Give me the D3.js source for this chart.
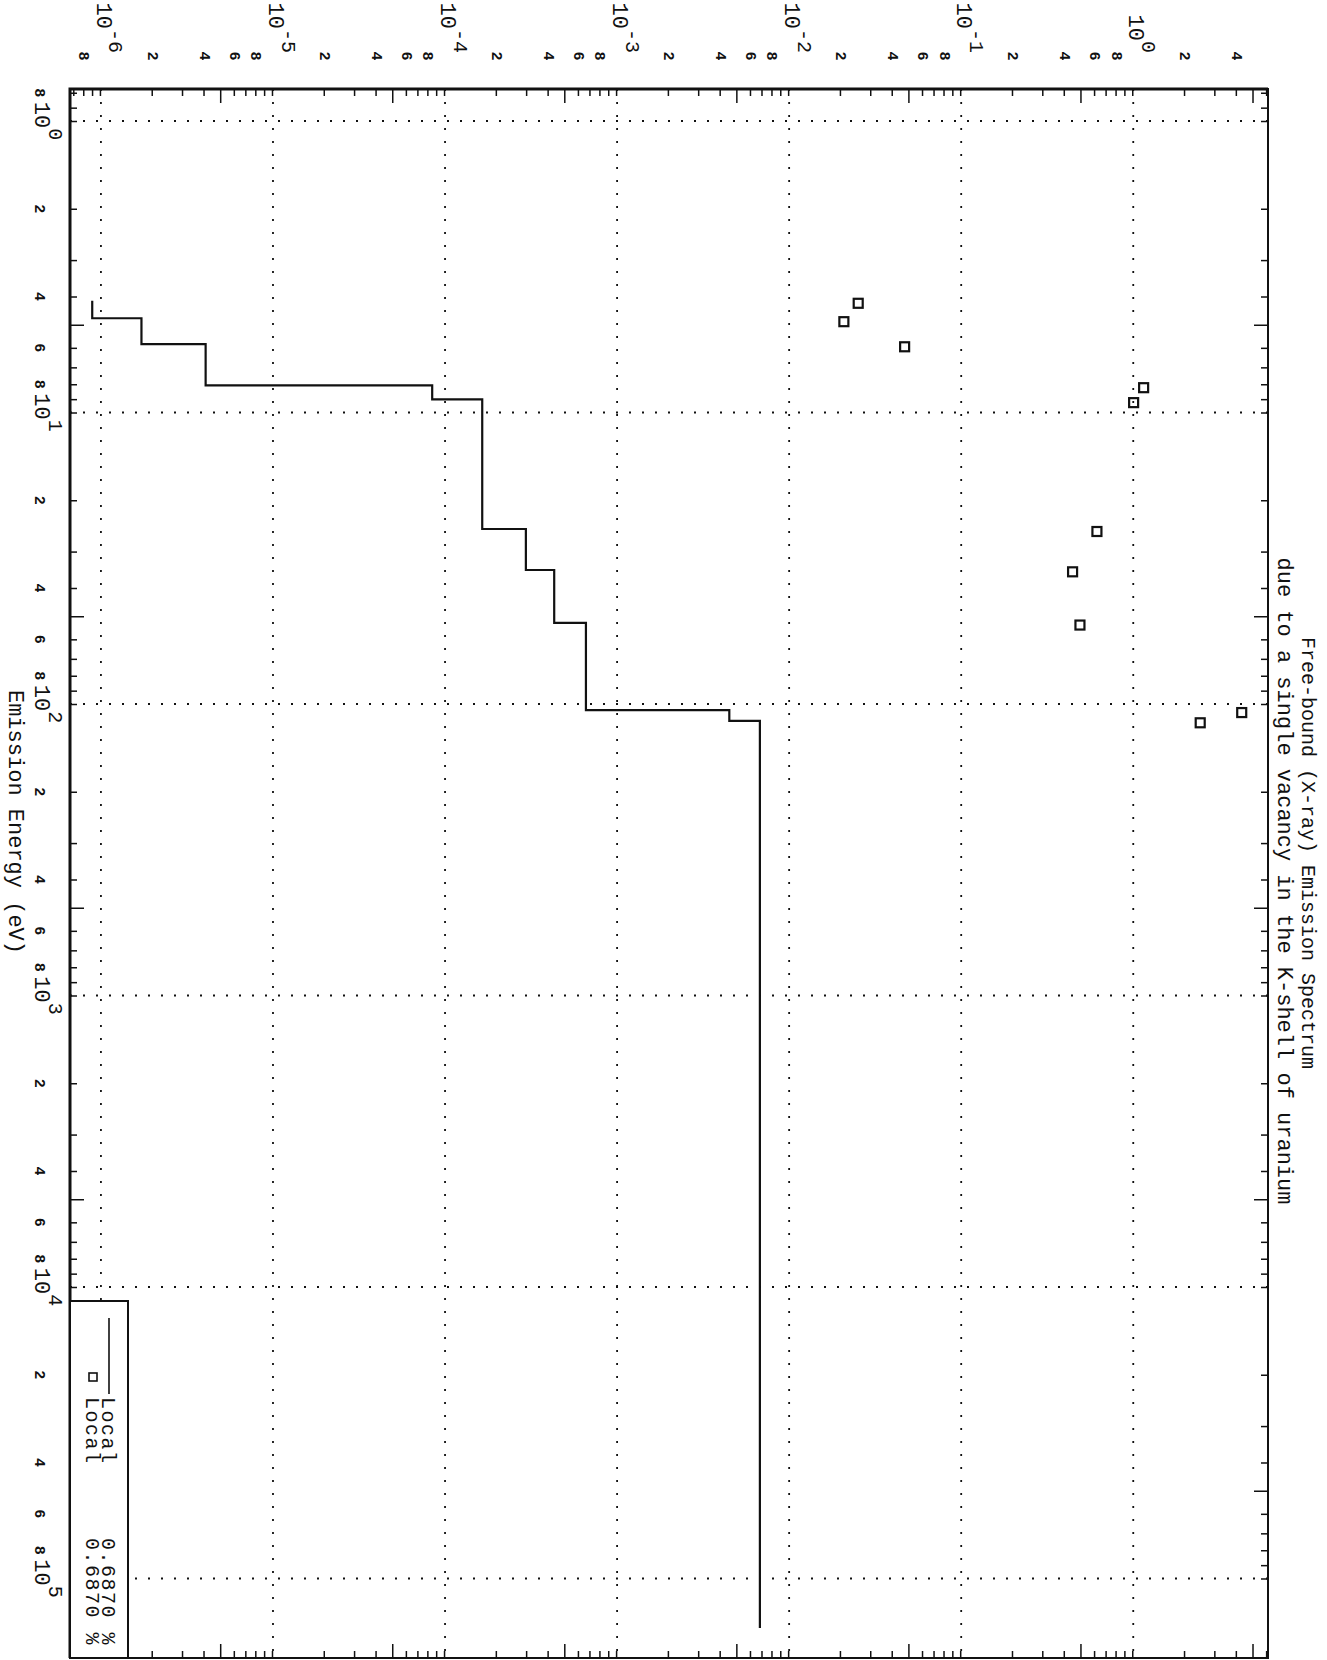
<!DOCTYPE html>
<html>
<head>
<meta charset="utf-8">
<script src="https://cdn.jsdelivr.net/npm/d3@7"></script>
<style>
  html, body { margin: 0; padding: 0; background: #fff; }
  svg { display: block; }
  text { font-family: "Liberation Mono", "DejaVu Sans Mono", monospace; fill: #111; }
</style>
</head>
<body>
<div id="chart"></div>
<script>
// Values (energy in eV). The plot is printed landscape,
// so it is drawn in landscape coordinates and then turned 90 degrees clockwise.
const titleLines = ["Free-bound (X-ray) Emission Spectrum", "due to a single vacancy in the K-shell of uranium"];
const xLabel = "Emission Energy (eV)";

const stepEnergy = [4.14, 4.75, 5.83, 8.07, 9.01, 25.1, 34.7, 52.7, 104.9, 114.3, 1.48e5];
const stepValue  = [8.9e-7, 1.72e-6, 4.06e-6, 8.42e-5, 1.645e-4, 2.95e-4, 4.31e-4, 6.59e-4, 4.49e-3, 6.76e-3, 6.76e-3];

const pointEnergy = [4.22, 4.88, 5.95, 8.22, 9.25, 25.6, 35.2, 53.6, 107, 116];
const pointValue  = [0.0252, 0.0208, 0.0469, 1.149, 1.005, 0.615, 0.444, 0.490, 4.27, 2.45];

const legendNames  = ["Local", "Local"];
const legendValues = ["0.6870 %", "0.6870 %"];

const xDomain = [0.7766, 1.874e5];
const yDomain = [6.61e-7, 6.07];

// page and frame (landscape coords: u along energy, v down the page)
const W = 1327, H = 1660;
const L = 89, R = 1658, T = 59, B = 1257;

const svg = d3.select("#chart").append("svg")
  .attr("width", W)
  .attr("height", H);

svg.append("rect").attr("width", W).attr("height", H).attr("fill", "#fff");

const g = svg.append("g")
  .attr("transform", `translate(${W},0) rotate(90)`);

const x = d3.scaleLog().domain(xDomain).range([L, R]);
const y = d3.scaleLog().domain(yDomain).range([B, T]);

function logTicks(domain) {
  const out = [];
  const e0 = Math.floor(Math.log10(domain[0])), e1 = Math.ceil(Math.log10(domain[1]));
  for (let e = e0; e <= e1; e++) {
    for (let m = 1; m < 10; m++) {
      const v = m * Math.pow(10, e);
      if (v >= domain[0] && v <= domain[1]) out.push({ v, m, e });
    }
  }
  return out;
}

const xt = logTicks(xDomain);
const yt = logTicks(yDomain);

// dotted decade grid
const grid = g.append("g")
  .attr("stroke", "#111")
  .attr("stroke-width", 1.8)
  .attr("stroke-dasharray", "2,11");

grid.selectAll("line.gx")
  .data(xt.filter(t => t.m === 1))
  .enter().append("line")
  .attr("x1", d => x(d.v)).attr("x2", d => x(d.v))
  .attr("y1", T).attr("y2", B);

grid.selectAll("line.gy")
  .data(yt.filter(t => t.m === 1))
  .enter().append("line")
  .attr("x1", L).attr("x2", R)
  .attr("y1", d => y(d.v)).attr("y2", d => y(d.v));

// inward ticks on all four sides, long ones at 5
function tickAxis(axisFn, scale, values, size, transform) {
  const a = g.append("g")
    .attr("transform", transform)
    .call(axisFn(scale).tickValues(values).tickSize(-size).tickFormat(""));
  a.select(".domain").remove();
  a.selectAll(".tick line").attr("stroke", "#111").attr("stroke-width", 1.5);
}

const xShort = xt.filter(t => t.m !== 5).map(t => t.v);
const xLong  = xt.filter(t => t.m === 5).map(t => t.v);
const yShort = yt.filter(t => t.m !== 5).map(t => t.v);
const yLong  = yt.filter(t => t.m === 5).map(t => t.v);

tickAxis(d3.axisBottom, x, xShort, 7, `translate(0,${B})`);
tickAxis(d3.axisBottom, x, xLong, 14, `translate(0,${B})`);
tickAxis(d3.axisTop, x, xShort, 7, `translate(0,${T})`);
tickAxis(d3.axisTop, x, xLong, 14, `translate(0,${T})`);
tickAxis(d3.axisLeft, y, yShort, 7, `translate(${L},0)`);
tickAxis(d3.axisLeft, y, yLong, 14, `translate(${L},0)`);
tickAxis(d3.axisRight, y, yShort, 7, `translate(${R},0)`);
tickAxis(d3.axisRight, y, yLong, 14, `translate(${R},0)`);

// frame
g.append("rect")
  .attr("x", L).attr("y", T)
  .attr("width", R - L).attr("height", B - T)
  .attr("fill", "none").attr("stroke", "#111").attr("stroke-width", 2);
g.append("path")
  .attr("d", `M${L},${T}V${B}H${R}`)
  .attr("fill", "none").attr("stroke", "#111").attr("stroke-width", 3);

// energy axis labels
const xLab = g.append("g");
xLab.selectAll("text.minor")
  .data(xt.filter(t => [2, 4, 6, 8].includes(t.m)))
  .enter().append("text")
  .attr("x", d => x(d.v)).attr("y", B + 35)
  .attr("text-anchor", "middle")
  .attr("font-size", 15).attr("font-weight", "bold")
  .text(d => d.m);
const xMaj = xLab.selectAll("text.major")
  .data(xt.filter(t => t.m === 1))
  .enter().append("text")
  .attr("x", d => x(d.v)).attr("y", B + 35)
  .attr("text-anchor", "middle")
  .attr("font-size", 22);
xMaj.append("tspan").text("10");
xMaj.append("tspan").attr("dy", -14).attr("font-size", 20).text(d => d.e);

// value axis labels
const yLab = g.append("g");
yLab.selectAll("text.minor")
  .data(yt.filter(t => [2, 4, 6, 8].includes(t.m) && t.v < yDomain[1] * 0.95))
  .enter().append("text")
  .attr("x", L - 33).attr("y", d => y(d.v) + 5)
  .attr("text-anchor", "middle")
  .attr("font-size", 15).attr("font-weight", "bold")
  .text(d => d.m);
const yMaj = yLab.selectAll("text.major")
  .data(yt.filter(t => t.m === 1))
  .enter().append("text")
  .attr("x", L - 36).attr("y", d => y(d.v) + 4)
  .attr("text-anchor", "end")
  .attr("font-size", 22);
yMaj.append("tspan").text("10");
yMaj.append("tspan").attr("dy", -12.5).attr("font-size", 20).text(d => d.e === 0 ? "0" : "-" + Math.abs(d.e));

// titles
g.append("text")
  .attr("x", 853).attr("y", 25)
  .attr("text-anchor", "middle").attr("font-size", 20)
  .text(titleLines[0]);
g.append("text")
  .attr("x", 881).attr("y", 49)
  .attr("text-anchor", "middle").attr("font-size", 22)
  .text(titleLines[1]);
g.append("text")
  .attr("x", 822).attr("y", 1318)
  .attr("text-anchor", "middle").attr("font-size", 22)
  .text(xLabel);

// step curve
const steps = stepEnergy.map((e, i) => ({ e, v: stepValue[i] }));
g.append("path")
  .datum(steps)
  .attr("fill", "none")
  .attr("stroke", "#111")
  .attr("stroke-width", 2.2)
  .attr("d", d3.line().x(d => x(d.e)).y(d => y(d.v)).curve(d3.curveStepAfter));

// square markers
const pts = pointEnergy.map((e, i) => ({ e, v: pointValue[i] }));
g.selectAll("rect.pt")
  .data(pts)
  .enter().append("rect")
  .attr("x", d => x(d.e) - 4.5).attr("y", d => y(d.v) - 4.5)
  .attr("width", 9).attr("height", 9)
  .attr("fill", "none").attr("stroke", "#111").attr("stroke-width", 2.2);

// legend in the lower right corner of the frame
const lg = g.append("g");
lg.append("rect")
  .attr("x", 1301).attr("y", 1199)
  .attr("width", R - 1301).attr("height", B - 1199)
  .attr("fill", "#fff").attr("stroke", "#111").attr("stroke-width", 2);
lg.append("line")
  .attr("x1", 1318).attr("x2", 1394).attr("y1", 1218).attr("y2", 1218)
  .attr("stroke", "#111").attr("stroke-width", 1.6);
lg.append("rect")
  .attr("x", 1377 - 4).attr("y", 1234 - 4)
  .attr("width", 8).attr("height", 8)
  .attr("fill", "none").attr("stroke", "#111").attr("stroke-width", 1.6);
legendNames.forEach((n, i) => {
  lg.append("text")
    .attr("x", 1397).attr("y", 1225 + i * 16)
    .attr("font-size", 20).attr("letter-spacing", 1.5)
    .text(n);
  lg.append("text")
    .attr("x", 1538).attr("y", 1225 + i * 16)
    .attr("font-size", 20).attr("letter-spacing", 1.5)
    .text(legendValues[i]);
});
</script>
</body>
</html>
